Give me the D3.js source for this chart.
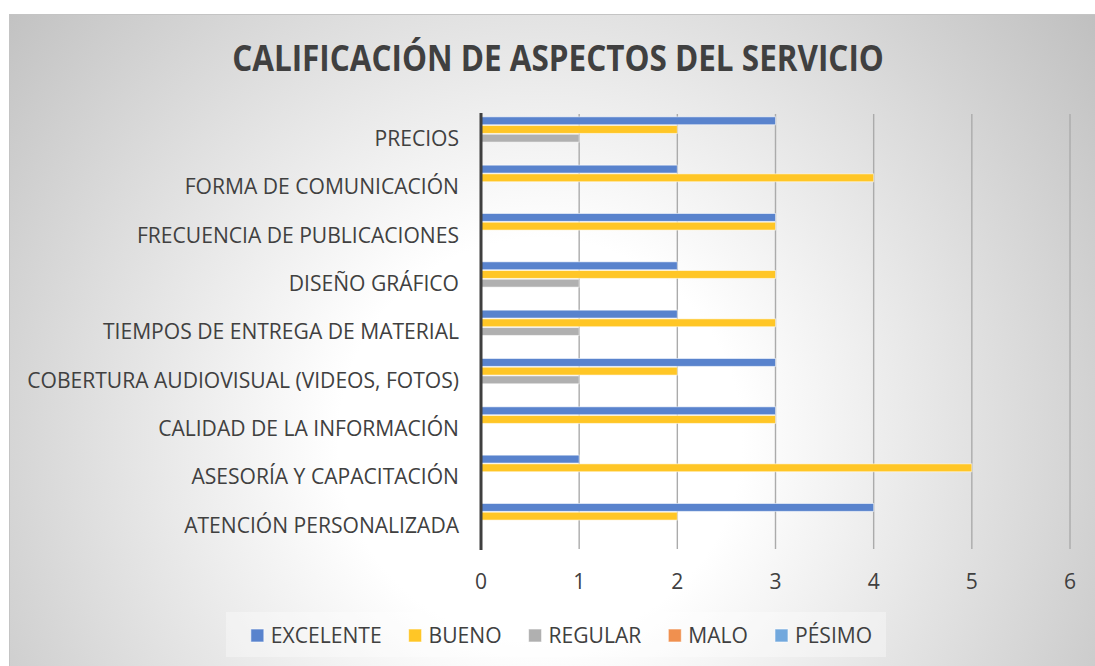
<!DOCTYPE html>
<html>
<head>
<meta charset="utf-8">
<script src="https://cdn.jsdelivr.net/npm/d3@7"></script>
<style>
  html, body { margin: 0; padding: 0; background: #fff; }
  svg { display: block; }
  text { font-family: "Open Sans", "Noto Sans", sans-serif; fill: #404040; }
</style>
</head>
<body>
<svg id="chart"></svg>
<script>
"use strict";

// Categories, top to bottom as shown
const categories = [
    "PRECIOS",
    "FORMA DE COMUNICACIÓN",
    "FRECUENCIA DE PUBLICACIONES",
    "DISEÑO GRÁFICO",
    "TIEMPOS DE ENTREGA DE MATERIAL",
    "COBERTURA AUDIOVISUAL (VIDEOS, FOTOS)",
    "CALIDAD DE LA INFORMACIÓN",
    "ASESORÍA Y CAPACITACIÓN",
    "ATENCIÓN PERSONALIZADA"
];

const seriesNames = ["EXCELENTE", "BUENO", "REGULAR", "MALO", "PÉSIMO"];

// Values per series, same order as categories
const excelente = [3, 2, 3, 2, 2, 3, 3, 1, 4];
const bueno     = [2, 4, 3, 3, 3, 2, 3, 5, 2];
const regular   = [1, 0, 0, 1, 1, 1, 0, 0, 0];
const malo      = [0, 0, 0, 0, 0, 0, 0, 0, 0];
const pesimo    = [0, 0, 0, 0, 0, 0, 0, 0, 0];

const xTicks = [0, 1, 2, 3, 4, 5, 6];

const colors = ["#5983cd", "#ffc626", "#b0b0b0", "#f0904f", "#72a8dd"];

const W = 1095, H = 666;
const FS = 21.5; // regular text size
const svg = d3.select("#chart").attr("width", W).attr("height", H);

// background with radial gradient
const defs = svg.append("defs");
const grad = defs.append("radialGradient")
    .attr("id", "bg")
    .attr("gradientUnits", "userSpaceOnUse")
    .attr("cx", 540).attr("cy", 440).attr("r", 720);
grad.append("stop").attr("offset", "0").attr("stop-color", "#ffffff");
grad.append("stop").attr("offset", "0.28").attr("stop-color", "#ffffff");
grad.append("stop").attr("offset", "1").attr("stop-color", "#bdbdbd");

svg.append("rect")
    .attr("x", 9.5).attr("y", 14.5)
    .attr("width", W).attr("height", H)
    .attr("fill", "url(#bg)")
    .attr("stroke", "#c4c4c4");

// Calibri is much narrower than the fonts we have, so text is squeezed horizontally
const squeeze = (g, k, tx, ty) => g.attr("transform", `translate(${tx},${ty}) scale(${k},1)`);

// title
const titleG = svg.append("g");
const title = titleG.append("text")
    .attr("text-anchor", "middle")
    .attr("font-size", "35px")
    .attr("font-weight", "bold")
    .text("CALIFICACIÓN DE ASPECTOS DEL SERVICIO");
squeeze(titleG, Math.min(1, 652 / title.node().getComputedTextLength()), 558, 71);

// scales
const x = d3.scaleLinear().domain([0, 6]).range([481, 1070]);
const y0 = d3.scaleBand().domain(categories).range([114, 549]);
const y1 = d3.scaleBand().domain(seriesNames).range([0, y0.bandwidth()]).paddingOuter(0.28);

// grid lines
svg.append("g")
    .selectAll("line")
    .data(xTicks.filter(t => t > 0))
    .enter()
    .append("line")
    .attr("x1", d => x(d)).attr("x2", d => x(d))
    .attr("y1", 114).attr("y2", 549)
    .attr("stroke", "#ababab")
    .attr("stroke-width", 1.4);

// bars
const rows = [];
const allSeries = [excelente, bueno, regular, malo, pesimo];
categories.forEach((c, i) => {
    seriesNames.forEach((s, j) => {
        rows.push({ category: c, series: s, value: allSeries[j][i], color: colors[j] });
    });
});

svg.append("g")
    .selectAll("rect")
    .data(rows.filter(d => d.value > 0))
    .enter()
    .append("rect")
    .attr("x", x(0))
    .attr("y", d => y0(d.category) + y1(d.series) + 0.4)
    .attr("width", d => x(d.value) - x(0))
    .attr("height", y1.bandwidth() - 0.8)
    .attr("fill", d => d.color)
    .attr("stroke", "rgba(255,255,255,0.55)")
    .attr("stroke-width", 1);

// axis line at zero
svg.append("line")
    .attr("x1", x(0)).attr("x2", x(0))
    .attr("y1", 113).attr("y2", 550)
    .attr("stroke", "#3f3f3f")
    .attr("stroke-width", 3);

// category labels
const catG = svg.append("g")
    .selectAll("g")
    .data(categories)
    .enter()
    .append("g");
catG.append("text")
    .attr("dy", "0.36em")
    .attr("text-anchor", "end")
    .attr("font-size", FS + "px")
    .text(d => d);

let maxLen = 0;
catG.select("text").each(function () { maxLen = Math.max(maxLen, this.getComputedTextLength()); });
const k = Math.min(1, 432 / maxLen);
catG.each(function (d) { squeeze(d3.select(this), k, 459, y0(d) + y0.bandwidth() / 2); });

// x tick labels
const tickG = svg.append("g")
    .selectAll("g")
    .data(xTicks)
    .enter()
    .append("g");
tickG.append("text")
    .attr("dy", "0.36em")
    .attr("text-anchor", "middle")
    .attr("font-size", FS + "px")
    .text(d => d);
tickG.each(function (d) { squeeze(d3.select(this), k, x(d), 581); });

// legend
const legend = svg.append("g");
legend.append("rect")
    .attr("x", 226).attr("y", 612)
    .attr("width", 660).attr("height", 45)
    .attr("fill", "rgba(255,255,255,0.35)");

const items = legend.selectAll(".legend-item")
    .data(seriesNames)
    .enter()
    .append("g")
    .attr("class", "legend-item");

items.append("rect")
    .attr("width", 13).attr("height", 13)
    .attr("y", 629)
    .attr("fill", (d, i) => colors[i])
    .attr("stroke", "rgba(255,255,255,0.6)");

const labelG = items.append("g");
labelG.append("text")
    .attr("dy", "0.36em")
    .attr("font-size", FS + "px")
    .text(d => d);
labelG.each(function () { squeeze(d3.select(this), k, 20, 635.5); });

// place legend items one after another, centered in the box
const widths = [];
items.each(function () { widths.push(20 + k * d3.select(this).select("text").node().getComputedTextLength()); });
const gap = 27;
const total = d3.sum(widths) + gap * (widths.length - 1);
let cursor = 561.5 - total / 2;
items.each(function (d, i) {
    d3.select(this).attr("transform", `translate(${cursor},0)`);
    cursor += widths[i] + gap;
});
</script>
</body>
</html>
